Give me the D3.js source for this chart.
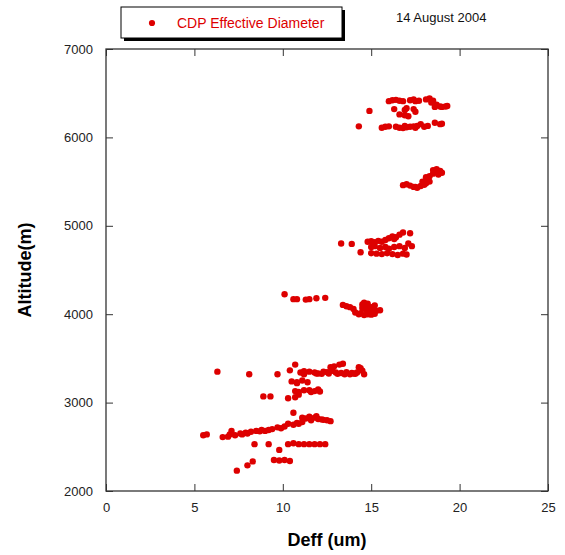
<!DOCTYPE html>
<html><head><meta charset="utf-8">
<script src="https://cdn.jsdelivr.net/npm/d3@7"></script>
<style>body{margin:0;background:#fff}svg{display:block}</style>
</head><body>
<script>
const xTicks = [0,5,10,15,20,25];
const yTicks = [2000,3000,4000,5000,6000,7000];
const seriesName = "CDP Effective Diameter";
const chartTitle = "14 August 2004";
const deff = [
16.0,16.2,16.4,16.6,16.8,17.2,17.4,17.5,17.7,18.1,18.3,18.5,18.4,18.7,18.9,19.0,19.2,19.3,18.6,16.3,16.9,17.0,17.5,17.4,16.6,16.9,17.1,14.9,14.3,15.6,15.8,16.0,16.4,16.6,16.8,17.0,17.2,17.4,17.6,17.8,18.0,18.2,18.6,18.9,19.0,16.9,17.5,
16.8,17.0,17.2,17.4,17.6,17.8,18.0,18.1,17.9,18.2,18.1,18.3,18.5,18.5,18.7,18.9,19.0,18.8,17.5,18.3,
13.3,13.9,14.4,14.8,15.0,15.2,15.4,15.6,15.8,16.0,16.2,16.4,16.6,16.8,17.2,16.3,15.0,15.2,15.5,15.8,16.0,16.3,16.6,16.9,17.3,17.1,15.0,15.3,15.6,15.9,16.2,16.5,16.8,17.0,
10.1,10.6,10.8,11.3,11.5,11.9,12.4,13.4,13.6,13.8,14.0,14.1,14.3,14.5,14.6,14.8,14.5,14.7,14.9,15.1,15.3,15.5,14.4,14.8,15.0,15.2,14.7,15.0,15.2,14.9,14.6,
6.3,8.1,9.7,10.4,10.7,11.0,11.2,11.5,11.8,12.0,12.3,12.6,12.8,13.0,13.2,13.4,13.3,13.6,13.8,14.0,14.2,14.4,14.5,14.6,12.7,12.9,14.3,11.2,13.5,11.9,12.2,12.5,13.1,13.9,14.1,
10.5,10.8,11.1,11.4,10.8,10.7,10.9,11.2,11.5,11.8,12.0,12.1,8.9,9.3,10.3,10.7,10.9,11.6,
10.6,11.1,11.3,11.5,11.8,12.0,12.2,12.5,12.7,11.6,10.3,10.6,10.9,11.1,9.7,9.9,10.1,9.2,9.4,8.8,8.5,8.2,7.9,7.6,7.3,7.1,7.0,5.5,5.7,6.6,6.9,8.4,9.2,10.3,10.6,10.9,11.2,11.5,11.8,12.1,12.4,9.8,9.5,9.8,10.1,10.4,8.3,8.0,7.4,
11.9,12.3,10.8,9.0,8.7,8.0,7.7
];
const altitude = [
6410,6420,6425,6415,6410,6420,6430,6410,6415,6430,6440,6415,6395,6370,6350,6345,6350,6355,6345,6320,6310,6330,6290,6320,6260,6250,6240,6300,6125,6110,6120,6125,6120,6110,6105,6115,6120,6125,6130,6150,6120,6130,6165,6150,6155,6130,6110,
5460,5470,5455,5440,5430,5450,5465,5480,5500,5520,5550,5560,5590,5630,5640,5620,5600,5580,5440,5500,
4800,4795,4700,4820,4825,4815,4830,4820,4840,4860,4880,4870,4900,4925,4915,4850,4760,4770,4750,4760,4740,4760,4770,4750,4770,4800,4690,4685,4680,4690,4680,4670,4685,4675,
4225,4170,4170,4165,4170,4180,4185,4105,4090,4080,4060,4020,4000,4110,4130,4120,4070,4050,4030,4050,4040,4045,4010,4000,3995,4005,4090,4080,4100,4010,3990,
3350,3320,3320,3365,3430,3340,3355,3350,3340,3330,3350,3330,3360,3340,3430,3440,3335,3345,3320,3330,3340,3390,3360,3320,3400,3410,3400,3320,3320,3330,3325,3345,3325,3335,3325,
3240,3230,3250,3230,3220,3130,3120,3140,3140,3130,3150,3125,3070,3070,3050,3060,3090,3120,
2885,2830,2820,2840,2830,2815,2810,2800,2790,2800,2760,2750,2760,2780,2720,2710,2730,2690,2700,2690,2680,2670,2660,2650,2630,2680,2640,2630,2640,2610,2615,2530,2530,2530,2540,2530,2530,2530,2530,2530,2530,2465,2350,2345,2350,2340,2335,2290,2230,
2845,2805,2770,2680,2675,2650,2640
];

const W = 565, H = 555;
const m = {l:106, r:548, t:49, b:491};
const svg = d3.select("body").append("svg").attr("width",W).attr("height",H);
const x = d3.scaleLinear().domain([0,25]).range([m.l,m.r]);
const y = d3.scaleLinear().domain([2000,7000]).range([m.b,m.t]);
const font = "'Liberation Sans', Arial, sans-serif";
const frameCol = "#333";

svg.append("g").selectAll("circle").data(deff.map((d,i)=>[d,altitude[i]])).join("circle")
  .attr("cx",d=>x(d[0])).attr("cy",d=>y(d[1])).attr("r",3.2).attr("fill","#dd0000");

const tickLen = 7;
function styleAxis(g){
  g.select(".domain").remove();
  g.selectAll(".tick line").attr("stroke",frameCol).attr("stroke-width",1);
  g.selectAll("text").attr("font-family",font).attr("font-size",13).attr("fill","#222");
}
svg.append("g").attr("transform",`translate(0,${m.b})`)
  .call(d3.axisBottom(x).tickValues(xTicks).tickSize(-tickLen).tickPadding(12).tickFormat(d3.format("d")))
  .call(styleAxis);
svg.append("g").attr("transform",`translate(0,${m.t})`)
  .call(d3.axisTop(x).tickValues(xTicks).tickSize(-tickLen).tickFormat(""))
  .call(styleAxis);
svg.append("g").attr("transform",`translate(${m.l},0)`)
  .call(d3.axisLeft(y).tickValues(yTicks).tickSize(-tickLen).tickPadding(13).tickFormat(d3.format("d")))
  .call(styleAxis);
svg.append("g").attr("transform",`translate(${m.r},0)`)
  .call(d3.axisRight(y).tickValues(yTicks).tickSize(-tickLen).tickFormat(""))
  .call(styleAxis);

svg.append("rect").attr("x",m.l).attr("y",m.t).attr("width",m.r-m.l).attr("height",m.b-m.t)
  .attr("fill","none").attr("stroke",frameCol).attr("stroke-width",1.3);

svg.append("text").attr("x",(m.l+m.r)/2).attr("y",546).attr("text-anchor","middle")
  .attr("font-family",font).attr("font-weight","bold").attr("font-size",18).text("Deff (um)");
svg.append("text").attr("transform",`translate(31,${(m.t+m.b)/2}) rotate(-90)`).attr("text-anchor","middle")
  .attr("font-family",font).attr("font-weight","bold").attr("font-size",18).text("Altitude(m)");

svg.append("rect").attr("x",124).attr("y",10).attr("width",221).attr("height",31).attr("fill","#000");
svg.append("rect").attr("x",121).attr("y",7).attr("width",221).attr("height",31).attr("fill","#fff").attr("stroke","#000").attr("stroke-width",1);
svg.append("circle").attr("cx",152).attr("cy",23).attr("r",3.1).attr("fill","#dd0000");
svg.append("text").attr("x",177).attr("y",28).attr("font-family",font).attr("font-size",14).attr("fill","#dd0000").text(seriesName);

svg.append("text").attr("x",396).attr("y",22).attr("font-family",font).attr("font-size",13).attr("fill","#111").text(chartTitle);
</script>
</body></html>
